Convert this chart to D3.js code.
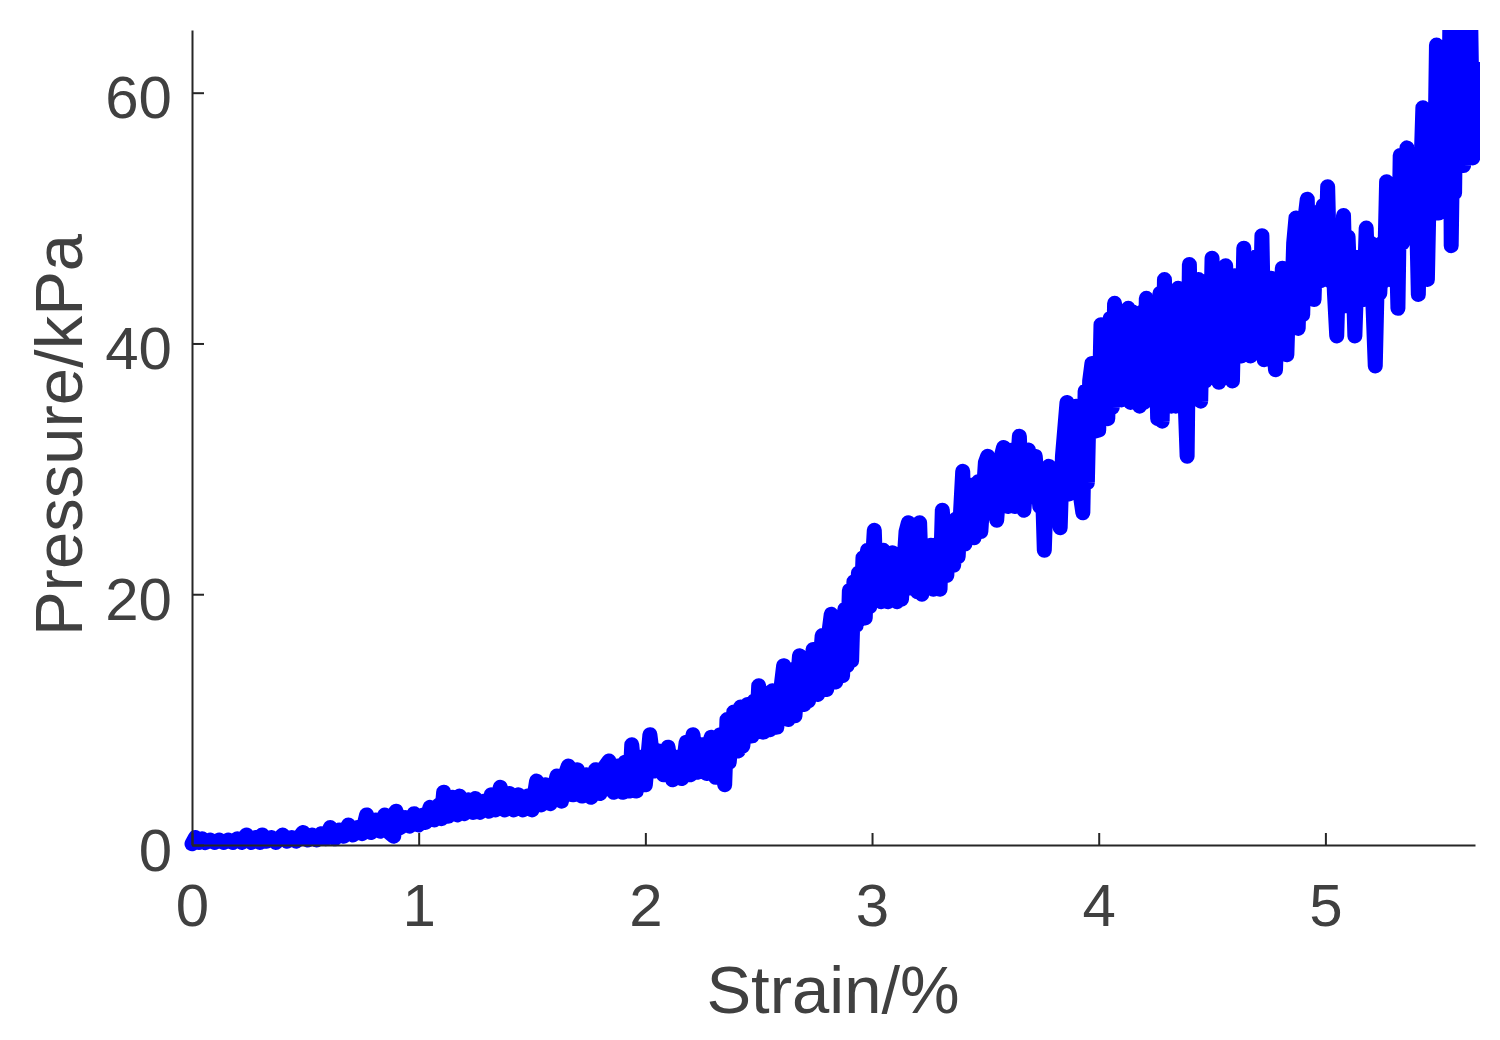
<!DOCTYPE html>
<html>
<head>
<meta charset="utf-8">
<script src="https://cdn.jsdelivr.net/npm/d3@7"></script>
<style>
  html, body { margin: 0; padding: 0; background: #fff; }
  svg { display: block; }
  text { font-family: "Liberation Sans", Arial, sans-serif; }
</style>
</head>
<body>
<svg id="chart" width="1500" height="1040"></svg>
<script>
// ---- data ----
const strain = [
  0.00,0.015,0.03,0.045,0.06,0.08,0.10,0.12,0.14,0.16,
  0.18,0.20,0.22,0.24,0.26,0.28,0.30,0.31,0.33,0.35,
  0.37,0.40,0.42,0.44,0.46,0.49,0.51,0.53,0.55,0.57,
  0.59,0.61,0.63,0.65,0.67,0.69,0.71,0.73,0.75,0.77,
  0.79,0.81,0.83,0.85,0.87,0.89,0.90,0.92,0.94,0.96,
  0.98,1.00,1.02,1.03,1.05,1.07,1.09,1.10,1.11,1.13,
  1.15,1.17,1.18,1.20,1.22,1.24,1.25,1.27,1.29,1.31,
  1.32,1.34,1.36,1.38,1.40,1.42,1.44,1.46,1.48,1.50,
  1.52,1.54,1.56,1.58,1.61,1.63,1.65,1.66,1.68,1.70,
  1.72,1.74,1.76,1.78,1.80,1.82,1.84,1.86,1.88,1.90,
  1.91,1.93,1.94,1.96,1.98,2.00,2.02,2.04,2.06,2.08,
  2.10,2.12,2.14,2.16,2.18,2.20,2.21,2.23,2.25,2.27,
  2.29,2.31,2.33,2.35,2.36,2.37,2.39,2.41,2.42,2.43,
  2.45,2.47,2.48,2.49,2.50,2.52,2.54,2.55,2.56,2.58,
  2.60,2.61,2.63,2.65,2.66,2.68,2.70,2.71,2.72,2.74,
  2.76,2.78,2.80,2.81,2.82,2.84,2.86,2.87,2.88,2.89,
  2.90,2.91,2.92,2.93,2.94,2.95,2.96,2.97,2.98,2.99,
  3.01,3.02,3.03,3.04,3.05,3.07,3.08,3.09,3.11,3.12,
  3.13,3.15,3.16,3.17,3.19,3.20,3.21,3.22,3.24,3.26,
  3.27,3.29,3.30,3.31,3.33,3.34,3.36,3.37,3.38,3.40,
  3.41,3.43,3.44,3.45,3.47,3.48,3.50,3.51,3.52,3.54,
  3.55,3.57,3.58,3.60,3.62,3.63,3.65,3.66,3.67,3.69,
  3.70,3.72,3.74,3.75,3.76,3.77,3.78,3.80,3.81,3.83,
  3.84,3.86,3.87,3.88,3.89,3.90,3.91,3.93,3.94,3.95,
  3.96,3.97,3.98,4.00,4.01,4.02,4.03,4.04,4.05,4.06,
  4.07,4.08,4.09,4.10,4.11,4.12,4.13,4.14,4.15,4.16,
  4.17,4.18,4.19,4.20,4.21,4.22,4.23,4.24,4.25,4.26,
  4.27,4.28,4.29,4.30,4.31,4.32,4.33,4.34,4.35,4.36,
  4.37,4.38,4.39,4.40,4.41,4.42,4.43,4.44,4.45,4.46,
  4.47,4.48,4.49,4.50,4.51,4.52,4.53,4.54,4.55,4.56,
  4.57,4.58,4.59,4.60,4.61,4.62,4.63,4.64,4.65,4.66,
  4.67,4.68,4.69,4.70,4.71,4.72,4.73,4.74,4.75,4.76,
  4.77,4.78,4.79,4.80,4.81,4.82,4.83,4.84,4.85,4.86,
  4.87,4.88,4.89,4.90,4.91,4.92,4.93,4.94,4.95,4.96,
  4.97,4.98,4.99,5.00,5.01,5.02,5.03,5.04,5.05,5.06,
  5.07,5.08,5.09,5.10,5.11,5.12,5.13,5.14,5.15,5.16,
  5.17,5.18,5.19,5.20,5.21,5.22,5.23,5.24,5.25,5.26,
  5.27,5.28,5.29,5.30,5.31,5.32,5.33,5.34,5.35,5.36,
  5.37,5.38,5.39,5.40,5.41,5.42,5.43,5.44,5.45,5.46,
  5.47,5.48,5.49,5.50,5.51,5.52,5.53,5.54,5.55,5.555,
  5.565,5.57,5.58,5.59,5.60,5.61,5.62,5.63,5.64,5.65,
  5.66
];
const pressure = [
  0.1,0.6,0.2,0.5,0.2,0.4,0.2,0.4,0.2,0.4,
  0.2,0.5,0.2,0.8,0.2,0.6,0.2,0.8,0.3,0.6,
  0.2,0.8,0.3,0.6,0.3,1.0,0.4,0.8,0.4,0.9,
  0.5,1.4,0.5,1.2,0.7,1.6,0.8,1.4,0.9,2.4,
  1.0,2.0,1.1,2.4,1.0,0.7,2.7,1.4,2.2,1.5,
  2.5,1.6,2.4,1.8,3.0,2.0,3.2,2.1,4.2,2.3,
  3.8,2.4,3.9,2.5,3.6,2.6,3.7,2.6,3.5,2.7,
  4.0,2.8,4.6,2.8,4.1,2.8,4.0,2.8,3.9,2.8,
  5.1,3.2,4.8,3.3,5.5,3.5,5.8,6.3,4.0,6.0,
  3.9,5.6,3.8,6.0,4.1,6.2,6.7,4.2,6.3,4.2,
  6.6,4.3,8.0,4.3,7.0,4.8,8.8,5.9,7.5,5.6,
  7.8,5.2,7.0,5.3,8.2,5.6,8.8,5.8,8.0,5.7,
  8.6,5.4,8.8,4.8,10.0,6.6,10.6,7.5,11.0,7.9,
  11.2,8.7,11.5,9.0,12.7,9.0,12.0,9.2,12.3,9.4,
  12.8,14.3,10.0,14.0,10.3,15.1,11.2,14.8,11.5,15.6,
  12.0,16.7,12.4,17.0,18.4,13.0,18.0,13.5,18.8,14.3,
  20.3,14.7,21.0,17.5,21.7,18.0,22.9,18.1,23.5,19.0,
  25.1,19.6,23.0,19.4,23.5,19.4,22.8,23.3,19.4,22.0,
  19.6,25.0,25.7,20.5,25.0,20.2,25.7,20.0,22.5,23.9,
  20.4,24.0,20.4,26.7,21.5,25.5,22.3,26.0,23.0,29.8,
  24.0,28.0,28.7,24.5,29.0,25.0,30.5,31.0,26.5,30.0,
  25.9,31.0,31.7,27.0,31.5,27.0,32.6,28.0,26.7,31.5,
  28.5,31.0,27.0,29.5,23.5,29.0,30.2,26.0,29.0,25.3,
  31.0,35.3,28.0,34.0,30.0,35.0,29.0,26.5,36.2,28.9,
  37.0,38.4,33.0,33.1,41.5,34.5,40.0,34.0,42.0,34.9,
  43.2,36.5,42.0,35.5,41.0,36.0,42.8,35.3,42.5,36.0,
  41.5,35.0,42.5,35.3,43.6,36.0,42.0,35.5,42.0,34.0,
  44.0,33.8,45.1,36.0,43.0,35.0,44.0,35.0,44.4,37.0,
  43.0,36.0,31.0,46.3,37.0,44.0,36.0,45.1,35.4,44.5,
  37.0,45.0,38.0,46.8,38.5,45.5,36.9,44.0,38.0,46.2,
  39.0,44.5,37.0,45.4,39.5,44.0,39.0,47.6,40.0,46.0,
  39.0,45.0,40.0,47.0,40.5,48.6,38.7,45.0,40.0,45.2,
  40.0,37.9,44.0,40.0,46.0,41.0,39.1,45.0,42.0,48.0,
  50.0,41.2,48.0,42.3,50.0,51.5,44.0,50.0,43.5,49.0,
  50.5,45.0,51.0,46.0,52.5,45.0,49.0,44.0,40.6,47.0,
  44.0,50.2,43.0,48.5,44.0,47.0,40.6,46.0,44.0,47.0,
  43.5,49.2,44.0,48.0,43.0,38.2,46.0,44.0,48.0,45.0,
  52.9,46.0,51.0,45.0,50.0,42.8,55.0,48.0,53.0,55.6,
  49.0,54.0,50.0,52.0,43.9,53.0,58.8,50.0,45.1,54.0,
  56.0,51.0,63.8,50.4,58.0,52.0,60.0,51.0,67.0,47.8,
  60.0,52.0,67.0,55.0,67.0,54.2,67.0,56.0,67.0,54.8,
  62.0
];
const xTicks = [0, 1, 2, 3, 4, 5];
const yTicks = [0, 20, 40, 60];
const xLabel = "Strain/%";
const yLabel = "Pressure/kPa";

// ---- layout ----
const plotLeft = 192, plotRight = 1475, plotTop = 30, plotBottom = 845;
const svg = d3.select("#chart");

const x = d3.scaleLinear().domain([0, 5.66]).range([plotLeft, plotRight]);
const y = d3.scaleLinear().domain([0, 65]).range([plotBottom, plotTop]);

const axisColor = "#262626";
const textColor = "#404040";

// clip (MATLAB-like: cut at top of axes box)
svg.append("defs").append("clipPath").attr("id", "clip")
  .append("rect").attr("x", 150).attr("y", plotTop).attr("width", 1480 - 150).attr("height", 900);

const n = Math.min(strain.length, pressure.length);
const pts = d3.range(n).map(i => [strain[i], pressure[i]]);
const line = d3.line().x(d => x(d[0])).y(d => y(d[1]));

svg.append("path")
  .datum(pts)
  .attr("clip-path", "url(#clip)")
  .attr("d", line)
  .attr("fill", "none")
  .attr("stroke", "#0000ff")
  .attr("stroke-width", 15)
  .attr("stroke-linejoin", "round")
  .attr("stroke-linecap", "round");

// axes
const xAxis = d3.axisBottom(x).tickValues(xTicks).tickFormat(d3.format("d"))
  .tickSizeInner(-12).tickSizeOuter(0).tickPadding(38);
const yAxis = d3.axisLeft(y).tickValues(yTicks).tickFormat(d3.format("d"))
  .tickSizeInner(-12).tickSizeOuter(0).tickPadding(20);

const gx = svg.append("g").attr("transform", `translate(0,${plotBottom})`).call(xAxis);
const gy = svg.append("g").attr("transform", `translate(${plotLeft},0)`).call(yAxis);

[gx, gy].forEach(g => {
  g.select(".domain").attr("stroke", axisColor).attr("stroke-width", 2);
  g.selectAll(".tick line").attr("stroke", axisColor).attr("stroke-width", 2);
  g.selectAll(".tick text")
    .attr("fill", textColor)
    .style("font-family", "'Liberation Sans', Arial, sans-serif")
    .style("font-size", "60px");
});
gy.selectAll(".tick text").attr("dy", "0.42em");

// axis labels
svg.append("text")
  .attr("x", 833).attr("y", 1013)
  .attr("text-anchor", "middle")
  .attr("fill", textColor)
  .style("font-size", "67px")
  .text(xLabel);

svg.append("text")
  .attr("transform", "translate(82,435) rotate(-90)")
  .attr("text-anchor", "middle")
  .attr("fill", textColor)
  .style("font-size", "67px")
  .text(yLabel);
</script>
</body>
</html>
